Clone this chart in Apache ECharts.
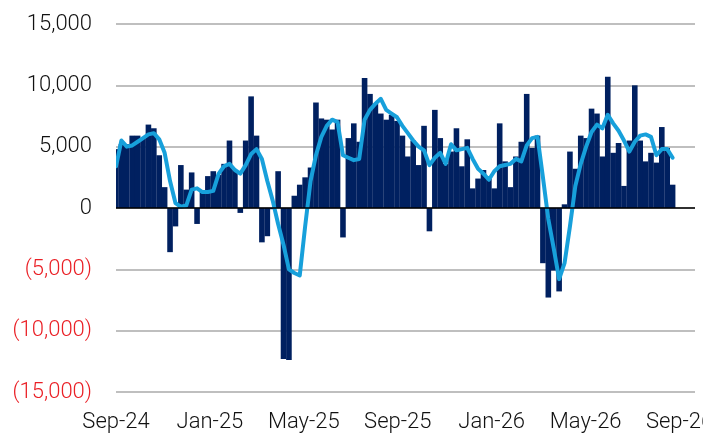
<!DOCTYPE html>
<html>
<head>
<meta charset="utf-8">
<script src="https://cdn.jsdelivr.net/npm/echarts@6/dist/echarts.min.js"></script>
<style>
  html, body { margin: 0; padding: 0; background: #fff; }
  #chart { width: 703px; height: 442px; }
</style>
</head>
<body>
<div id="chart"></div>
<script>
// 周度数值（柱）与平滑线，单位：个
const barValues = [
  4800, 5200, 5200, 5900, 5900, 5700, 6800, 6500, 4300, 1700,
  -3600, -1500, 3500, 1500, 2900, -1300, 1400, 2600, 3000, 2700,
  3600, 5500, 3100, -400, 5500, 9100, 5900, -2800, -2300, -100,
  3000, -12300, -12400, 1000, 1900, 2500, 3300, 8600, 7300, 7200,
  6400, 7200, -2400, 5700, 6900, 5400, 10600, 9300, 8500, 7700,
  7200, 7600, 7100, 5900, 4200, 5500, 3500, 6700, -1900, 8000,
  5700, 3600, 4600, 6500, 3400, 5600, 1600, 2400, 3100, 2400,
  1600, 6900, 3800, 1700, 4200, 5400, 9300, 4900, 5900, -4500,
  -7300, -5100, -6800, 300, 4600, 3200, 5900, 5700, 8100, 7700,
  4200, 10700, 4500, 5300, 1800, 5500, 10000, 5500, 3800, 4500,
  3700, 6600, 4900, 1900
];

const lineValues = [
  3400, 5500, 5000, 5100, 5400, 5700, 6000, 6100, 5600, 4500,
  2200, 400, 100, 200, 1500, 1600, 1300, 1300, 1400, 2800,
  3400, 3600, 3100, 2800, 3500, 4400, 4800, 4000, 2200, 600,
  -1300, -3000, -5000, -5300, -5500, -1500, 2200, 4300, 5800, 6700,
  7200, 7000, 4300, 4100, 3900, 4000, 7200, 8000, 8500, 8900,
  8000, 7700, 7400, 6700, 6100, 5500, 5000, 4700, 3500, 4100,
  4500, 3600, 5200, 4700, 4800, 4900, 4000, 3200, 2800, 2300,
  3000, 3400, 3500, 3600, 4000, 3800, 5100, 5700, 5800, 2500,
  -900, -3300, -5800, -4500, -1500, 1800, 3600, 5000, 6200, 6800,
  6500, 7600, 6900, 6300, 5500, 4600, 5400, 5900, 6000, 5800,
  4300, 4800, 4800, 4100
];

const monthLabels = ['Sep-24', 'Jan-25', 'May-25', 'Sep-25', 'Jan-26', 'May-26', 'Sep-26'];

// x 轴以天计，0 = 首周
const labelStep = 730 / 6;
const weekDay = i => i * 7;

const fontFamily = 'Roboto, "Liberation Sans", sans-serif';

function formatThousands(v) {
    const s = Math.abs(v).toLocaleString('en-US');
    return v < 0 ? '(' + s + ')' : s;
}

const chart = echarts.init(document.getElementById('chart'), null, { renderer: 'canvas' });

chart.setOption({
    animation: false,
    grid: { left: 116, right: 8, top: 24, bottom: 50, containLabel: false, outerBoundsMode: 'none' },
    // 数值轴上的柱不会被 clip，这里用白块遮住左侧溢出的半根柱
    graphic: [{
        type: 'rect',
        z: 100,
        silent: true,
        shape: { x: 100, y: 20, width: 16, height: 376 },
        style: { fill: '#fff' }
    }],
    xAxis: {
        type: 'value',
        min: 0,
        max: 750,
        interval: labelStep,
        axisLine: { show: false },
        axisTick: { show: false },
        splitLine: { show: false },
        axisLabel: {
            margin: 19,
            fontSize: 22,
            fontWeight: 300,
            fontFamily: fontFamily,
            color: '#111',
            formatter: v => {
                const k = Math.round(v / labelStep);
                return Math.abs(v - k * labelStep) < 1 ? (monthLabels[k] || '') : '';
            }
        }
    },
    yAxis: {
        type: 'value',
        min: -15000,
        max: 15000,
        interval: 5000,
        axisLine: { show: false },
        axisTick: { show: false },
        splitLine: { lineStyle: { color: '#bfbfbf', width: 2 } },
        axisLabel: {
            margin: 24,
            fontSize: 22,
            fontWeight: 300,
            fontFamily: fontFamily,
            color: v => (Number(v) < 0 ? '#ea1f25' : '#111'),
            formatter: v => formatThousands(v)
        }
    },
    series: [
        {
            type: 'bar',
            data: barValues.map((v, i) => [weekDay(i), v]),
            barWidth: 5.6,
            clip: true,
            itemStyle: { color: '#002060' },
            markLine: {
                silent: true,
                symbol: 'none',
                label: { show: false },
                lineStyle: { color: '#000', width: 1.5, type: 'solid' },
                data: [{ yAxis: 0 }]
            }
        },
        {
            type: 'line',
            data: lineValues.map((v, i) => [weekDay(i), v]),
            symbol: 'none',
            clip: true,
            lineStyle: { color: '#17a0db', width: 4, cap: 'round', join: 'round' }
        }
    ]
});

window.addEventListener('resize', () => chart.resize());
</script>
</body>
</html>
